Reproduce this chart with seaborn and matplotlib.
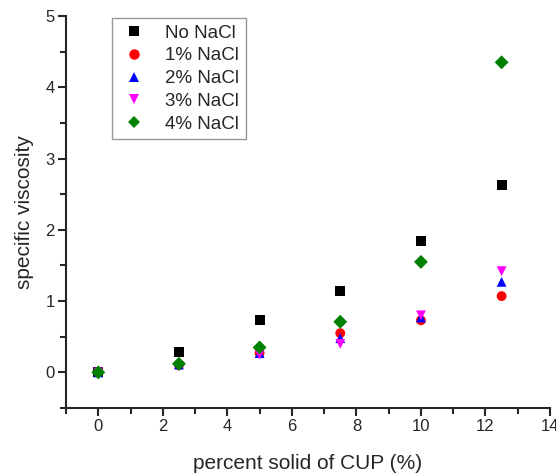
import numpy as np
import pandas as pd
import seaborn as sns
import matplotlib.pyplot as plt
from matplotlib.ticker import MultipleLocator

# percent solid of CUP
x_vals = [0, 2.5, 5, 7.5, 10, 12.5]
no_nacl = [0, 0.28, 0.74, 1.14, 1.84, 2.63]
nacl_1 = [0, 0.10, 0.27, 0.55, 0.73, 1.07]
nacl_2 = [0, 0.11, 0.27, 0.48, 0.77, 1.27]
nacl_3 = [0, 0.09, 0.25, 0.40, 0.80, 1.42]
nacl_4 = [0, 0.12, 0.35, 0.71, 1.55, 4.35]
series_names = ["No NaCl", "1% NaCl", "2% NaCl", "3% NaCl", "4% NaCl"]

rows = []
for name, vals in zip(series_names, [no_nacl, nacl_1, nacl_2, nacl_3, nacl_4]):
    for xv, yv in zip(x_vals, vals):
        rows.append({"x": xv, "y": yv, "series": name})
df = pd.DataFrame(rows)

sns.set_style("ticks")
plt.rcParams['font.family'] = ['Liberation Sans', 'DejaVu Sans']

fig = plt.figure(figsize=(5.56, 4.75), dpi=100)
ax = fig.add_axes([66 / 556, 67 / 475, 484 / 556, 392 / 475])

palette = {"No NaCl": "black", "1% NaCl": "red", "2% NaCl": "blue",
           "3% NaCl": "magenta", "4% NaCl": "green"}
markers = {"No NaCl": "s", "1% NaCl": "o", "2% NaCl": "^",
           "3% NaCl": "v", "4% NaCl": "D"}
sns.scatterplot(data=df, x="x", y="y", hue="series", style="series",
                palette=palette, markers=markers, s=50, linewidth=0, ax=ax)

ax.set_xlim(-1, 14)
ax.set_ylim(-0.5, 5)
ax.xaxis.set_major_locator(MultipleLocator(2))
ax.xaxis.set_minor_locator(MultipleLocator(1))
ax.yaxis.set_major_locator(MultipleLocator(1))
ax.yaxis.set_minor_locator(MultipleLocator(0.5))
ax.tick_params(which="major", length=6, width=1.5, labelsize=12, direction="out", pad=2)
ax.tick_params(which="minor", length=4, width=1.5, direction="out")
for side in ["top", "right"]:
    ax.spines[side].set_visible(False)
for side in ["left", "bottom"]:
    ax.spines[side].set_linewidth(1.5)

ax.set_xlabel("percent solid of CUP (%)", fontsize=15, labelpad=14)
ax.set_ylabel("specific viscosity", fontsize=15, labelpad=8)

leg = ax.legend(loc="upper left", bbox_to_anchor=(0.095, 0.995), fontsize=13.5,
                frameon=True, fancybox=False, edgecolor="#808080",
                handletextpad=0.9, labelspacing=0.3, borderpad=0.35,
                borderaxespad=0, handlelength=1.6)
leg.get_frame().set_linewidth(1)
# same marker size for every legend entry
for h in leg.legend_handles:
    h.set_markersize(6 if h.get_marker() == "D" else 7.5)

fig.savefig("out.png", dpi=100)
